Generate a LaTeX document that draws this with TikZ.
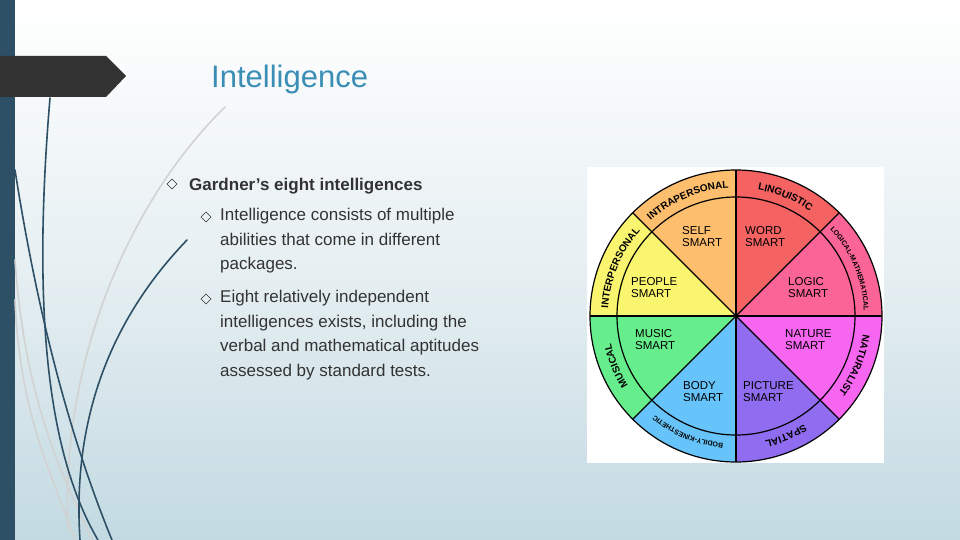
\documentclass[tikz,border=0pt]{standalone}
\usepackage{fontspec}
\setmainfont{Liberation Sans}
\usetikzlibrary{decorations.text}
\definecolor{barblue}{HTML}{2D5066}
\definecolor{titleblue}{HTML}{3A8DB5}
\definecolor{txt}{HTML}{333333}
\definecolor{bgbot}{HTML}{C3DAE2}
\definecolor{bgmid}{HTML}{E6EFF2}
\definecolor{cself}{HTML}{FDBE6E}
\definecolor{cword}{HTML}{F46262}
\definecolor{clogic}{HTML}{FA6496}
\definecolor{cnature}{HTML}{F766F0}
\definecolor{cpicture}{HTML}{8F6CF0}
\definecolor{cbody}{HTML}{66C4FA}
\definecolor{cmusic}{HTML}{66EE8C}
\definecolor{cpeople}{HTML}{FAF56E}
\tikzset{
  deco/.style={line width=1.6pt, barblue, line cap=round},
  decolight/.style={line width=1.6pt, gray!35, line cap=round},
  bul/.style={draw=txt, line width=0.6pt, minimum size=7pt, inner sep=0pt, rotate=45},
  body/.style={anchor=base west, text=txt, font=\fontsize{17}{24.5}\selectfont, align=left, inner sep=0pt},
  inlab/.style={align=left, font=\fontsize{11.5}{12.5}\selectfont, inner sep=0pt},
}
\newcommand{\ringtxt}[4]{%
  \path[decorate, decoration={text along path, text align=center,
    text={|\fontsize{#4}{#4}\selectfont\bfseries|#3}}]
    (#1:128) arc[start angle=#1, end angle=#2, radius=128];}
\begin{document}
\begin{tikzpicture}[x=1pt,y=-1pt]
\shade[top color=white, bottom color=bgbot, middle color=bgmid] (0,0) rectangle (960,540);
\useasboundingbox (0,0) rectangle (960,540);
\fill[barblue] (0,0) rectangle (15,540);
% decorative curves
\draw[decolight] (225,107) .. controls (130,200) and (60,360) .. (68,530);
\draw[decolight] (15,260) .. controls (25,400) and (60,470) .. (92,540);
\draw[decolight] (15,300) .. controls (20,420) and (55,480) .. (75,540);
\draw[deco] (50,98) .. controls (33,300) and (45,450) .. (98,540);
\draw[deco] (15,170) .. controls (40,330) and (75,450) .. (112,540);
\draw[deco] (187,240) .. controls (110,320) and (72,420) .. (80,540);
% arrow
\fill[txt] (0,56) -- (106,56) -- (126,76) -- (106,97) -- (0,97) -- cycle;
\node[anchor=base west, text=titleblue, font=\fontsize{31}{31}\selectfont, inner sep=0] (title) at (211,88) {Intelligence};
% bullets
\node[bul] (b1) at (172,184) {};
\node[body, font=\fontsize{17}{24.5}\selectfont\bfseries] (t1) at (189,190) {Gardner’s eight intelligences};
\node[bul] (b2) at (206,217) {};
\node[body, anchor=north west] (t2) at (220,208) {Intelligence consists of multiple\\abilities that come in different\\packages.};
\node[bul] (b3) at (206,299) {};
\node[body, anchor=north west] (t3) at (220,290) {Eight relatively independent\\intelligences exists, including the\\verbal and mathematical aptitudes\\assessed by standard tests.};
% wheel
\fill[white] (587,167) rectangle (884,463);
\begin{scope}[shift={(736,316)}, x=1pt, y=1pt]
\coordinate (wc) at (0,0);
\foreach \a/\c in {90/cself,45/cword,0/clogic,-45/cnature,-90/cpicture,-135/cbody,-180/cmusic,-225/cpeople}{
  \fill[\c] (wc) -- (\a:146) arc[start angle=\a, end angle=\a+45, radius=146] -- cycle;
}
\draw[line width=1.2pt] (wc) circle[radius=146];
\draw[line width=1.2pt] (wc) circle[radius=119];
\foreach \a in {0,45,...,315}{\draw[line width=1.2pt] (wc) -- (\a:146);}
\ringtxt{134}{91}{INTRAPERSONAL}{10}
\ringtxt{89}{46}{LINGUISTIC}{10}
\ringtxt{44}{1}{LOGICAL-MATHEMATICAL}{7}
\ringtxt{-1}{-44}{NATURALIST}{10}
\ringtxt{-46}{-89}{SPATIAL}{10}
\ringtxt{-91}{-134}{BODILY-KINESTHETIC}{7}
\ringtxt{-136}{-179}{MUSICAL}{10}
\ringtxt{179}{136}{INTERPERSONAL}{10}
\end{scope}
\node[inlab, anchor=north west] (l1) at (682,226) {SELF\\SMART};
\node[inlab, anchor=north west] (l2) at (745,226) {WORD\\SMART};
\node[inlab, anchor=north west] (l3) at (631,277) {PEOPLE\\SMART};
\node[inlab, anchor=north west] (l4) at (788,277) {LOGIC\\SMART};
\node[inlab, anchor=north west] (l5) at (635,329) {MUSIC\\SMART};
\node[inlab, anchor=north west] (l6) at (785,329) {NATURE\\SMART};
\node[inlab, anchor=north west] (l7) at (683,381) {BODY\\SMART};
\node[inlab, anchor=north west] (l8) at (743,381) {PICTURE\\SMART};
\end{tikzpicture}
\end{document}
